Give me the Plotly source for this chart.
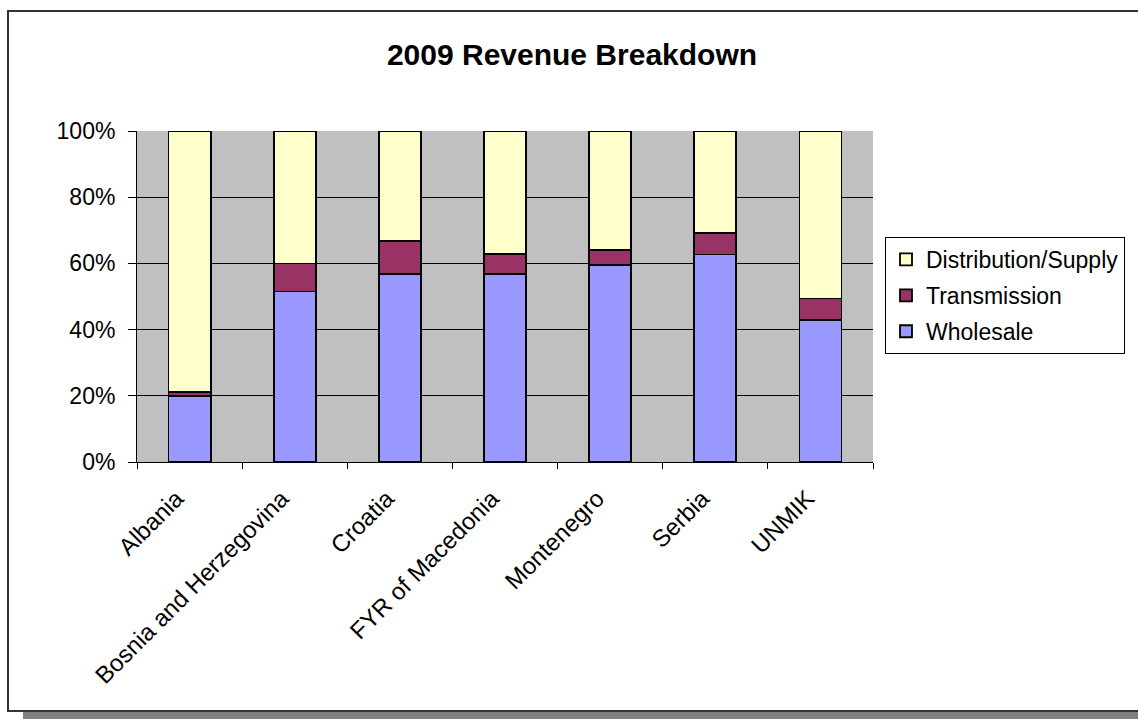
import plotly.graph_objects as go

# Revenue shares by country, 2009 (percent of total)
countries = ["Albania", "Bosnia and Herzegovina", "Croatia", "FYR of Macedonia",
             "Montenegro", "Serbia", "UNMIK"]
wholesale = [20.0, 51.5, 56.7, 56.7, 59.6, 62.7, 43.0]
transmission = [1.2, 8.5, 10.1, 6.1, 4.4, 6.4, 6.4]
distribution = [round(100 - w - t, 1) for w, t in zip(wholesale, transmission)]

y_ticks = [0, 20, 40, 60, 80, 100]
y_labels = ["0%", "20%", "40%", "60%", "80%", "100%"]

FONT = "Liberation Sans, Arial, sans-serif"
W, H = 1138, 719
PL, PR, PT, PB = 137, 873, 131, 462  # plot area in pixels

# (name, values, colour, legend rank) -- stacked bottom to top
series = [
    ("Wholesale", wholesale, "#9999FF", 3),
    ("Transmission", transmission, "#993366", 2),
    ("Distribution/Supply", distribution, "#FFFFCC", 1),
]

fig = go.Figure()
for name, vals, col, rank in series:
    fig.add_trace(go.Bar(
        x=countries, y=vals, name=name, legendgroup=name, legendrank=rank,
        marker=dict(color=col, line=dict(color="black", width=1.8)),
        width=0.4,
    ))


def px_x(p):
    return (p - PL) / (PR - PL)


def px_y(p):
    return (PB - p) / (PB - PT)


# Chart frame with drop shadow along the bottom
shapes = [
    dict(type="rect", xref="paper", yref="paper",
         x0=px_x(23), x1=px_x(1140), y0=px_y(720), y1=px_y(711),
         fillcolor="#808080", line=dict(width=0), layer="below"),
    dict(type="rect", xref="paper", yref="paper",
         x0=px_x(8), x1=px_x(1145), y0=px_y(711), y1=px_y(11),
         fillcolor="rgba(0,0,0,0)", line=dict(color="#333333", width=2), layer="below"),
]

fig.update_layout(
    width=W, height=H,
    margin=dict(l=PL, r=W - PR, t=PT, b=H - PB, pad=0, autoexpand=False),
    paper_bgcolor="white", plot_bgcolor="#C0C0C0",
    barmode="stack",
    font=dict(family=FONT, size=23, color="black"),
    title=dict(text="<b>2009 Revenue Breakdown</b>", x=572 / W,
               xanchor="center", y=1 - 54 / H, yanchor="middle",
               font=dict(family=FONT, size=30, color="black")),
    xaxis=dict(
        type="category", range=[-0.5, 6.5], tickangle=-45,
        ticks="outside", ticklen=6, tickcolor="black", tickwidth=1,
        tickson="boundaries", showgrid=False,
        ticklabelstandoff=12, ticklabelshift=-13,
        showline=True, linecolor="black", linewidth=1,
        tickfont=dict(family=FONT, size=24, color="black"),
    ),
    yaxis=dict(
        range=[0, 100], tickvals=y_ticks, ticktext=y_labels,
        ticks="outside", ticklen=8, tickcolor="black", tickwidth=1,
        showgrid=True, gridcolor="black", gridwidth=1, ticklabelstandoff=8,
        showline=True, linecolor="black", linewidth=1,
        tickfont=dict(family=FONT, size=23, color="black"),
        zeroline=False,
    ),
    legend=dict(
        x=px_x(885), y=px_y(237), xanchor="left", yanchor="top",
        traceorder="grouped", tracegroupgap=3,
        bgcolor="white", bordercolor="black", borderwidth=1,
        font=dict(family=FONT, size=23, color="black"),
    ),
    shapes=shapes,
)

fig.write_html("out.html")
